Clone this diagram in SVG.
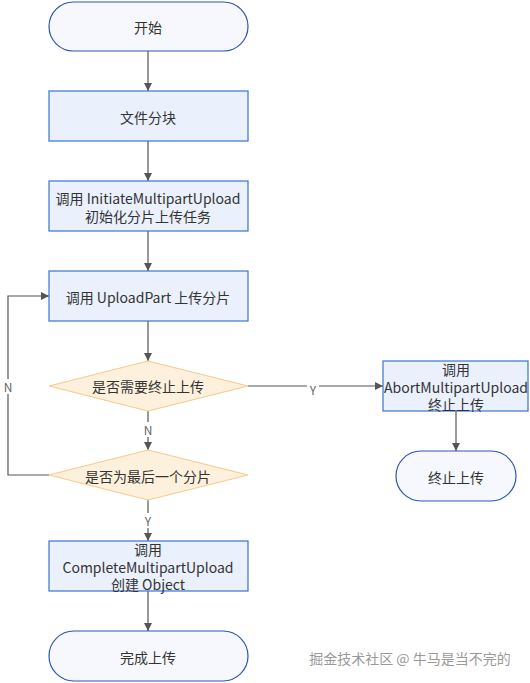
<svg xmlns="http://www.w3.org/2000/svg" width="530" height="683" viewBox="0 0 530 683">
<style>
text{font-family:"Noto Sans CJK SC","Noto Sans",sans-serif;font-size:14px;fill:#333;text-anchor:middle;dominant-baseline:central}
.term{fill:#F6F8FE;stroke:#2D56B5;stroke-width:1.2}
.proc{fill:#EAF0FC;stroke:#3A74D2;stroke-width:1.2}
.dec{fill:#FDF1DD;stroke:#F6CB8E;stroke-width:1.2}
.ln{fill:none;stroke:#555;stroke-width:1.2}
.lbl{fill:#666;font-size:12px}
</style>
<defs>
<marker id="ar" viewBox="0 0 10 10" refX="10" refY="5" markerWidth="8" markerHeight="8" markerUnits="userSpaceOnUse" orient="auto"><path d="M0,0 L10,5 L0,10 z" fill="#555"/></marker>
</defs>
<rect width="530" height="683" fill="#fff"/>
<g id="connectors">
<line class="ln" x1="148" y1="51" x2="148" y2="91" marker-end="url(#ar)"/>
<line class="ln" x1="148" y1="141" x2="148" y2="181" marker-end="url(#ar)"/>
<line class="ln" x1="148" y1="231" x2="148" y2="271" marker-end="url(#ar)"/>
<line class="ln" x1="148" y1="321" x2="148" y2="361" marker-end="url(#ar)"/>
<line class="ln" x1="148" y1="411" x2="148" y2="450" marker-end="url(#ar)"/>
<line class="ln" x1="148" y1="500" x2="148" y2="541" marker-end="url(#ar)"/>
<line class="ln" x1="148" y1="591" x2="148" y2="631" marker-end="url(#ar)"/>
<line class="ln" x1="248" y1="386" x2="383" y2="386" marker-end="url(#ar)"/>
<line class="ln" x1="456" y1="411" x2="456" y2="451" marker-end="url(#ar)"/>
<polyline class="ln" points="49,475 8,475 8,296 49,296" marker-end="url(#ar)"/>
<rect x="142" y="422" width="12" height="15" fill="#fff"/>
<text class="lbl" x="148" y="429">N</text>
<rect x="2" y="379" width="12" height="15" fill="#fff"/>
<text class="lbl" x="8" y="386">N</text>
<rect x="307" y="381" width="12" height="15" fill="#fff"/>
<text class="lbl" x="313" y="389">Y</text>
<rect x="142" y="513" width="12" height="15" fill="#fff"/>
<text class="lbl" x="148" y="520">Y</text>
</g>
<g id="start"><rect class="term" x="49" y="2" width="199" height="49" rx="24.5"/><text x="148" y="27">开始</text></g>
<g id="split"><rect class="proc" x="49" y="91" width="199" height="50"/><text x="148" y="117">文件分块</text></g>
<g id="initiate"><rect class="proc" x="49" y="181" width="199" height="50"/><text x="148" y="198">调用 InitiateMultipartUpload<tspan x="148" dy="18">初始化分片上传任务</tspan></text></g>
<g id="uploadpart"><rect class="proc" x="49" y="271" width="199" height="50"/><text x="148" y="297">调用 UploadPart 上传分片</text></g>
<g id="abortq"><polygon class="dec" points="148,361 248,386 148,411 49,386"/><text x="148" y="386">是否需要终止上传</text></g>
<g id="lastq"><polygon class="dec" points="148,450 248,475 148,500 49,475"/><text x="148" y="476">是否为最后一个分片</text></g>
<g id="abort"><rect class="proc" x="383" y="361" width="145" height="50"/><text x="456" y="369">调用<tspan x="456" dy="18">AbortMultipartUpload</tspan><tspan x="456" dy="17">终止上传</tspan></text></g>
<g id="end-abort"><rect class="term" x="396" y="451" width="120" height="50" rx="25"/><text x="456" y="477">终止上传</text></g>
<g id="complete"><rect class="proc" x="49" y="541" width="199" height="50"/><text x="148" y="549">调用<tspan x="148" dy="18">CompleteMultipartUpload</tspan><tspan x="148" dy="17">创建 Object</tspan></text></g>
<g id="end"><rect class="term" x="49" y="631" width="199" height="50" rx="25"/><text x="148" y="657">完成上传</text></g>
<text x="410" y="658" style="fill:#999;font-size:14px">掘金技术社区 @ 牛马是当不完的</text>
</svg>
